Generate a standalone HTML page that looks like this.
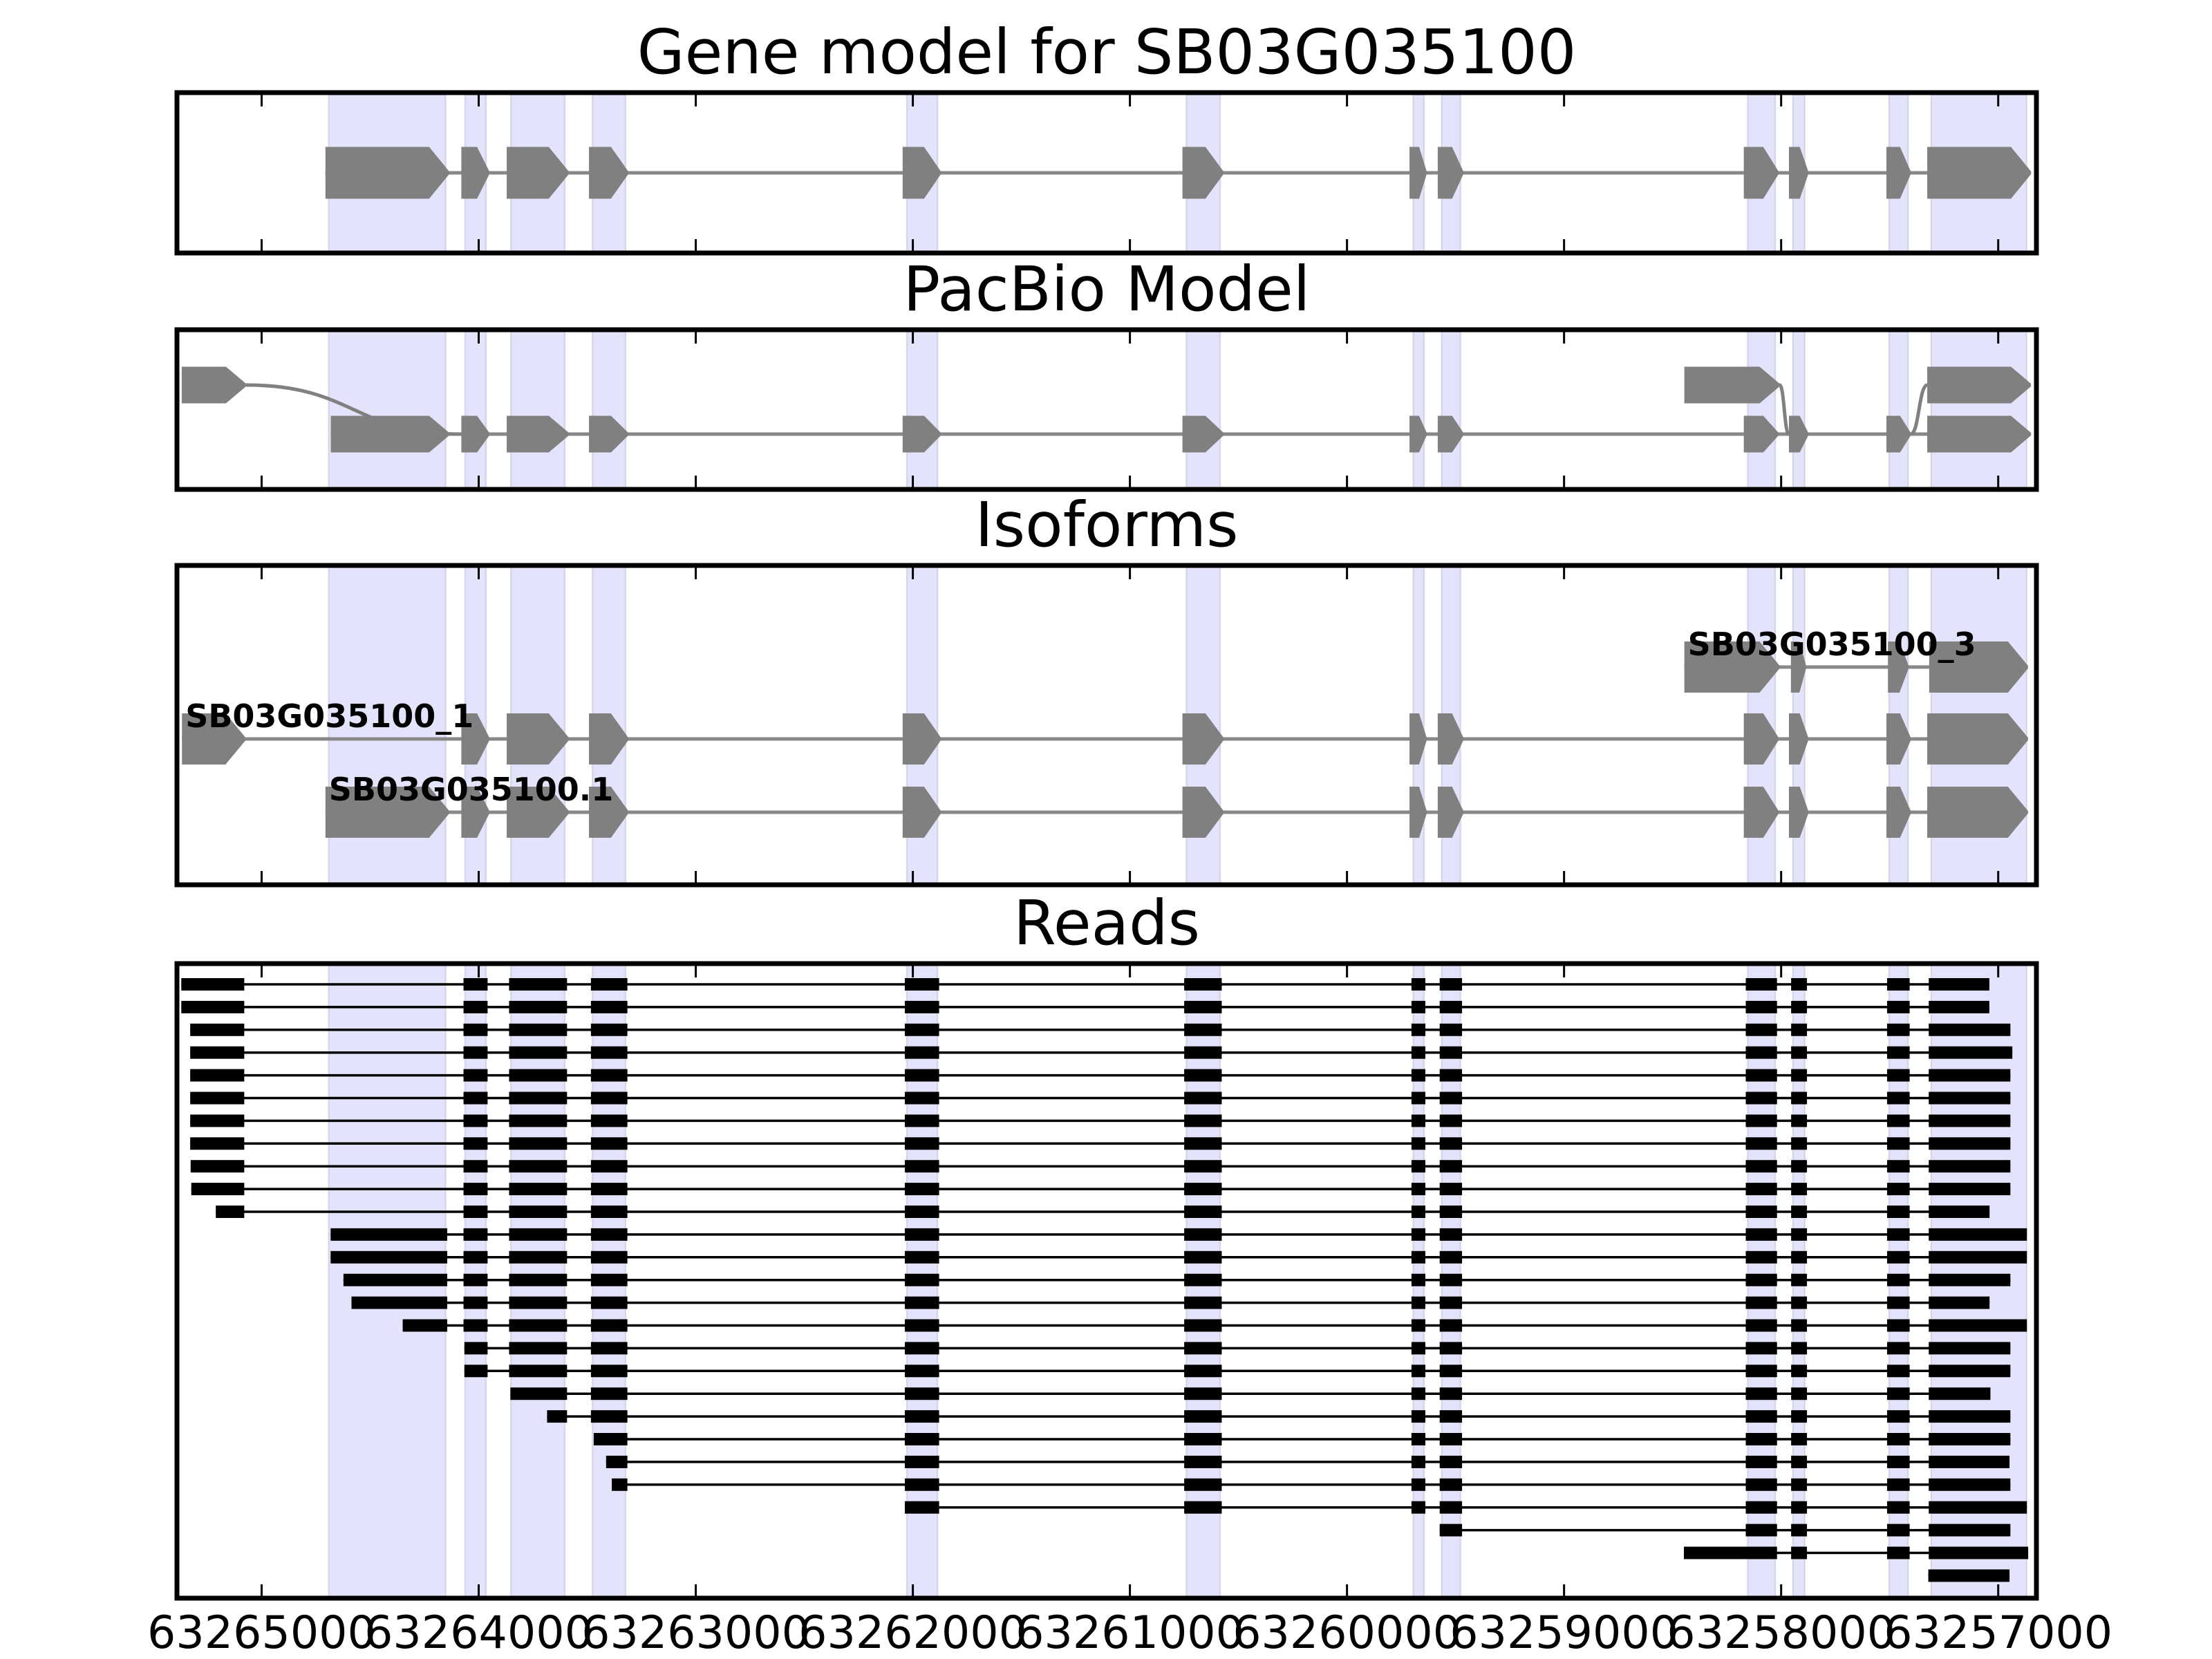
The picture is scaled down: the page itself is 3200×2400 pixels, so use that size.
<!DOCTYPE html>
<html><head><meta charset="utf-8"><title>Gene model for SB03G035100</title>
<style>html,body{margin:0;padding:0;background:#fff}svg{display:block}</style></head>
<body>
<svg id="fig" xmlns="http://www.w3.org/2000/svg" width="3200" height="2400" viewBox="0 0 3200 2400" font-family="'DejaVu Sans','Liberation Sans',sans-serif">
<rect x="0" y="0" width="3200" height="2400" fill="#fff"/>
</svg>
<script>
// ---- data (genomic coordinates, reversed axis) ----
const axisLeft = 63265390, axisRight = 63256824;
const tickValues = [63265000,63264000,63263000,63262000,63261000,63260000,63259000,63258000,63257000];
const tickLabels = ["63265000","63264000","63263000","63262000","63261000","63260000","63259000","63258000","63257000"];
const bandStarts = [63264690,63264062,63263851,63263475,63262027,63260739,63259694,63259563,63258153,63257945,63257502,63257308];
const bandEnds   = [63264153,63263967,63263604,63263324,63261887,63260585,63259646,63259478,63258028,63257892,63257416,63256870];
const geneStarts = [63264706,63264080,63263871,63263492,63262047,63260758,63259712,63259582,63258172,63257964,63257515,63257327];
const geneEnds   = [63264136,63263951,63263585,63263311,63261871,63260569,63259633,63259464,63258012,63257875,63257403,63256849];
const pbUpperLeft = [63265368,63265072];
const pbLowerFirstStart = 63264681;
const pbUpperRight1 = [63258446,63258007];
const pbUpperRight2 = [63257327,63256849];
const iso3Starts = [63258446,63257955,63257508,63257318];
const iso3Ends   = [63258007,63257885,63257413,63256863];
const iso1First = [63265367,63265074];
const isoLabels = ["SB03G035100_3","SB03G035100_1","SB03G035100.1"];
// read exon template
const readExStarts = [null,null,63264070,63263860,63263483,63262037,63260750,63259703,63259573,63258163,63257954,63257512,63257320];
const readExEnds   = [63265080,63264145,63263959,63263593,63263315,63261879,63260577,63259639,63259470,63258019,63257881,63257408,null];
const readStarts = [63265370,63265370,63265329,63265329,63265329,63265329,63265329,63265329,63265327,63265324,63265211,63264682,63264682,63264623,63264586,63264350,63264066,63264066,63263854,63263685,63263470,63263413,63263387,63262037,63259573,63258448,63257322];
const readFirst  = [0,0,0,0,0,0,0,0,0,0,0,1,1,1,1,1,2,2,3,3,4,4,4,5,8,9,12];
const readEnds   = [63257041,63257041,63256944,63256935,63256944,63256944,63256944,63256944,63256944,63256944,63257040,63256868,63256868,63256944,63257040,63256868,63256944,63256944,63257036,63256944,63256944,63256948,63256944,63256868,63256944,63256862,63256948];

// ---- layout ----
const FL = 256, FR = 2946;
const X = v => FL + (axisLeft - v) / (axisLeft - axisRight) * (FR - FL);
const panels = [
  {name:'gene-model-panel', title:'Gene model for SB03G035100', top:134, bottom:366},
  {name:'pacbio-panel', title:'PacBio Model', top:477, bottom:708},
  {name:'isoforms-panel', title:'Isoforms', top:818, bottom:1280},
  {name:'reads-panel', title:'Reads', top:1394, bottom:2312}
];
const NS = 'http://www.w3.org/2000/svg';
const svg = document.getElementById('fig');
function mk(tag, attrs, parent){ const e=document.createElementNS(NS,tag); for(const k in attrs) e.setAttribute(k,attrs[k]); (parent||svg).appendChild(e); return e; }
const GREY = '#808080';

function arrowExon(g, a, b, yc, h, nm){
  const x1 = X(a), x2 = X(b), w = x2 - x1;
  const tip = Math.min(29, 0.44*w);
  const xb = x2 - tip;
  const p = mk('polygon', {points:`${x1},${yc-h/2} ${xb},${yc-h/2} ${x2},${yc-2} ${x2},${yc+2} ${xb},${yc+h/2} ${x1},${yc+h/2}`, fill:GREY}, g);
  
  
}
function hline(g, a, b, yc, color, sw, nm){
  const l = mk('line', {x1:X(a), x2:X(b), y1:yc, y2:yc, stroke:color, 'stroke-width':sw}, g);
  
  
}
function sCurve(g, a, y1, b, y2, nm){
  const x1 = X(a), x2 = X(b), dx = x2 - x1;
  const p = mk('path', {d:`M${x1},${y1} C${x1+dx*0.5},${y1} ${x1+dx*0.5},${y2} ${x2},${y2}`, fill:'none', stroke:GREY, 'stroke-width':5}, g);
  
  
}

panels.forEach((P, pi) => {
  const g = mk('g', {});
  
  
  bandStarts.forEach((s, i) => {
    const r = mk('rect', {x:X(s), y:P.top, width:X(bandEnds[i])-X(s), height:P.bottom-P.top, fill:'#e3e3fc', stroke:'#d6d6ea', 'stroke-width':2.5}, g);
    
    
  });
  P.g = g;
  const t = mk('text', {x:(FL+FR)/2, y:P.top-28, 'text-anchor':'middle', 'font-size':89, fill:'#000'}, svg);
  t.textContent = P.title;
  
  
});

// gene model
(function(){
  const g = panels[0].g, yc = 250, h = 75;
  hline(g, geneStarts[0], geneEnds[geneEnds.length-1], yc, '#888', 5, 'intron-line');
  geneStarts.forEach((s,i)=>arrowExon(g, s, geneEnds[i], yc, h, 'gene-exon'));
})();

// pacbio
(function(){
  const g = panels[1].g, yU = 557, yL = 628, h = 53;
  hline(g, pbLowerFirstStart, geneEnds[geneEnds.length-1], yL, '#888', 5, 'pacbio-intron-line');
  sCurve(g, pbUpperLeft[1], yU, geneStarts[1], yL, 'pacbio-connector');
  sCurve(g, pbUpperRight1[1], yU, geneStarts[9], yL, 'pacbio-connector');
  sCurve(g, geneEnds[10], yL, pbUpperRight2[0], yU, 'pacbio-connector');
  arrowExon(g, pbUpperLeft[0], pbUpperLeft[1], yU, h, 'pacbio-exon');
  arrowExon(g, pbUpperRight1[0], pbUpperRight1[1], yU, h, 'pacbio-exon');
  arrowExon(g, pbUpperRight2[0], pbUpperRight2[1], yU, h, 'pacbio-exon');
  geneStarts.forEach((s,i)=>arrowExon(g, i===0?pbLowerFirstStart:s, geneEnds[i], yL, h, 'pacbio-exon'));
})();

// isoforms
(function(){
  const g = panels[2].g, h = 74, ys = [965,1069,1175];
  hline(g, iso3Starts[0], iso3Ends[3], ys[0], '#888', 5, 'isoform-intron-line');
  iso3Starts.forEach((s,i)=>arrowExon(g, s, iso3Ends[i], ys[0], h, 'isoform-exon'));
  hline(g, iso1First[0], iso3Ends[3], ys[1], '#888', 5, 'isoform-intron-line');
  arrowExon(g, iso1First[0], iso1First[1], ys[1], h, 'isoform-exon');
  geneStarts.forEach((s,i)=>{ if(i>0) arrowExon(g, s, i===11?iso3Ends[3]:geneEnds[i], ys[1], h, 'isoform-exon'); });
  hline(g, geneStarts[0], iso3Ends[3], ys[2], '#888', 5, 'isoform-intron-line');
  geneStarts.forEach((s,i)=>arrowExon(g, s, i===11?iso3Ends[3]:geneEnds[i], ys[2], h, 'isoform-exon'));
  const starts = [iso3Starts[0], iso1First[0], geneStarts[0]];
  isoLabels.forEach((lab,i)=>{
    const t = mk('text', {x:X(starts[i])+5, y:ys[i]-17, 'font-size':46, 'font-weight':'bold', fill:'#000'}, svg);
    t.textContent = lab;
    
    
  });
})();

// reads
(function(){
  const g = panels[3].g, eh = 18;
  readStarts.forEach((s, r) => {
    const y = 1424 + r*32.9;
    const blocks = [];
    const f = readFirst[r];
    let idx = f;
    blocks.push([s, f===12 ? readEnds[r] : readExEnds[f]]);
    if (f !== 12) {
      idx = (f <= 1) ? 2 : f+1;
      for (; idx <= 12; idx++) blocks.push([readExStarts[idx], idx===12 ? readEnds[r] : readExEnds[idx]]);
    }
    hline(g, blocks[0][0], blocks[blocks.length-1][1], y, '#000', 3.5, 'read-line');
    blocks.forEach(b => {
      const rc = mk('rect', {x:X(b[0]), y:y-eh/2, width:X(b[1])-X(b[0]), height:eh, fill:'#000'}, g);
      
      
    });
  });
})();

// frames, ticks
panels.forEach(P => {
  const f = mk('rect', {x:FL, y:P.top, width:FR-FL, height:P.bottom-P.top, fill:'none', stroke:'#000', 'stroke-width':7});
  
  
  tickValues.forEach(v => {
    const x = X(v);
    const t1 = mk('line', {x1:x, x2:x, y1:P.top, y2:P.top+20, stroke:'#000', 'stroke-width':3});
    
    
    const t2 = mk('line', {x1:x, x2:x, y1:P.bottom, y2:P.bottom-20, stroke:'#000', 'stroke-width':3});
    
    
  });
});
tickValues.forEach((v,i) => {
  const t = mk('text', {x:X(v), y:2384, 'text-anchor':'middle', 'font-size':65, fill:'#000'});
  t.textContent = tickLabels[i];
  
  
});
</script>
</body></html>
